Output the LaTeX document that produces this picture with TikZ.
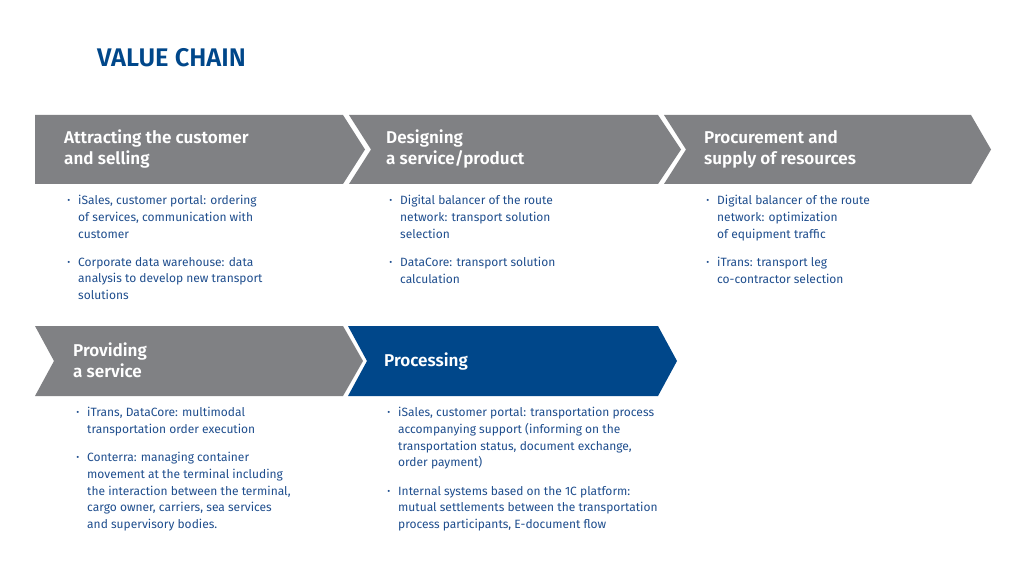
\documentclass[tikz,border=0pt]{standalone}
\usepackage{fontspec}
\setmainfont{Fira Sans}
\IfFontExistsTF{Fira Sans SemiBold}{\newfontfamily\headfont{Fira Sans SemiBold}}{\newfontfamily\headfont{Fira Sans}[UprightFont=*,UprightFeatures={FakeBold=0}]\let\oldhf\headfont\renewcommand\headfont{\oldhf\bfseries}}
\definecolor{chgray}{HTML}{808184}
\definecolor{chblue}{HTML}{00478A}
\definecolor{txblue}{HTML}{1F4E8E}
\newcommand{\bul}{\llap{\raisebox{0.1ex}{\scalebox{0.75}{•}}\hspace{8pt}}}
\begin{document}
\begin{tikzpicture}[x=1pt,y=-1pt,
  chev/.style={fill=chgray,draw=none},
  head/.style={anchor=north west,inner sep=0pt,align=left,text=white,font=\fontsize{17.1}{21}\headfont},
  item/.style={anchor=north west,inner sep=0pt,align=left,text=txblue,font=\fontsize{12}{16.75}\selectfont}]
\useasboundingbox (0,0) rectangle (1024,585);
\fill[white] (0,0) rectangle (1024,585);
\node[anchor=base west,inner sep=0pt,text=chblue,font=\fontsize{25.5}{30}\headfont] (title) at (97,67) {VALUE CHAIN};
% top row
\fill[chev] (35,115) -- (343,115) -- (365,149.5) -- (343,184) -- (35,184) -- cycle;
\fill[chev] (349,115) -- (658,115) -- (681,149.5) -- (658,184) -- (349,184) -- (371,149.5) -- cycle;
\fill[chev] (664,115) -- (971,115) -- (991,149.5) -- (971,184) -- (664,184) -- (686,149.5) -- cycle;
% bottom row
\fill[chev] (35,326) -- (343,326) -- (363,361) -- (343,396) -- (35,396) -- (54,361) -- cycle;
\fill[chblue] (348,326) -- (658,326) -- (677,361) -- (658,396) -- (348,396) -- (367,361) -- cycle;
% headings
\node[head] (h1) at (64,130) {Attracting the customer\\and selling};
\node[head] (h2) at (386,130) {Designing\\a service/product};
\node[head] (h3) at (704,130) {Procurement and\\supply of resources};
\node[head] (h4) at (73,343) {Providing\\a service};
\node[head] (h5) at (384,353) {Processing};
% items
\node[item] (a1) at (78,195) {\bul iSales, customer portal: ordering\\of services, communication with\\customer};
\node[item] (a2) at (78,257) {\bul Corporate data warehouse: data\\analysis to develop new transport\\solutions};
\node[item] (b1) at (400,195) {\bul Digital balancer of the route\\network: transport solution\\selection};
\node[item] (b2) at (400,257) {\bul DataCore: transport solution\\calculation};
\node[item] (c1) at (717,195) {\bul Digital balancer of the route\\network: optimization\\of equipment traffic};
\node[item] (c2) at (717,257) {\bul iTrans: transport leg\\co-contractor selection};
\node[item] (d1) at (87,407) {\bul iTrans, DataCore: multimodal\\transportation order execution};
\node[item] (d2) at (87,452) {\bul Conterra: managing container\\movement at the terminal including\\the interaction between the terminal,\\cargo owner, carriers, sea services\\and supervisory bodies.};
\node[item] (e1) at (398,407) {\bul iSales, customer portal: transportation process\\accompanying support (informing on the\\transportation status, document exchange,\\order payment)};
\node[item] (e2) at (398,486) {\bul Internal systems based on the 1C platform:\\mutual settlements between the transportation\\process participants, E-document flow};
\end{tikzpicture}
\end{document}
